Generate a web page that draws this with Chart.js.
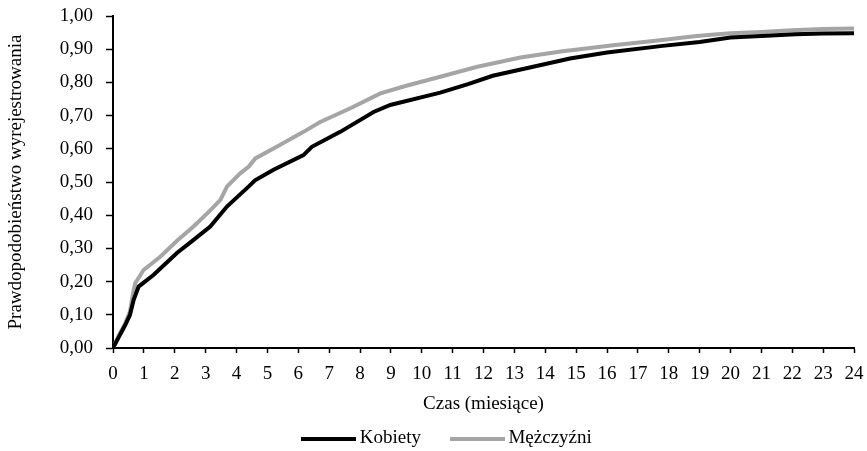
<!DOCTYPE html>
<html>
<head>
<meta charset="utf-8">
<script src="https://cdn.jsdelivr.net/npm/chart.js@4.4.1/dist/chart.umd.min.js"></script>
<style>
  html, body { margin: 0; padding: 0; background: #fff; }
  #wrap { width: 867px; height: 451px; }
</style>
</head>
<body>
<div id="wrap"><canvas id="myChart" width="867" height="451"></canvas></div>
<script>
// czas w miesiacach i skumulowane prawdopodobienstwo
var x_kobiety = [0, 0.2, 0.4, 0.55, 0.67, 0.83, 1.31, 2.07, 2.6, 3.15, 3.69, 4.39, 4.6, 5.2, 6.17, 6.44, 7.36, 8.44, 8.98, 10.6, 11.5, 12.3, 13.5, 14.8, 16, 17.8, 19, 20, 21, 22.1, 23, 24];
var y_kobiety = [0, 0.035, 0.07, 0.10, 0.145, 0.185, 0.22, 0.286, 0.325, 0.366, 0.426, 0.486, 0.505, 0.537, 0.581, 0.606, 0.651, 0.711, 0.732, 0.769, 0.795, 0.82, 0.845, 0.872, 0.89, 0.91, 0.922, 0.935, 0.94, 0.945, 0.947, 0.948];

var x_mezczyzni = [0, 0.2, 0.4, 0.55, 0.65, 0.72, 0.99, 1.53, 2.1, 2.61, 3.1, 3.48, 3.69, 4.12, 4.39, 4.61, 5.2, 6.17, 6.71, 7.69, 8.66, 9.5, 10.6, 11.8, 13.2, 14.5, 16.2, 17.5, 18.9, 20, 21, 22, 23, 24];
var y_mezczyzni = [0, 0.04, 0.075, 0.11, 0.165, 0.195, 0.235, 0.275, 0.325, 0.366, 0.41, 0.446, 0.486, 0.526, 0.546, 0.571, 0.601, 0.651, 0.681, 0.722, 0.767, 0.79, 0.817, 0.847, 0.875, 0.893, 0.912, 0.925, 0.94, 0.948, 0.952, 0.957, 0.961, 0.962];

var labels = ["Kobiety", "Mężczyźni"];
var lineColors = ["#000000", "#a5a5a5"];

function pairs(xs, ys) {
  var out = [];
  for (var i = 0; i < xs.length; i++) out.push({x: xs[i], y: ys[i]});
  return out;
}

// krotka kreska do legendy (jak w Excelu)
function legendLine(color) {
  var cv = document.createElement("canvas");
  cv.width = 55;
  cv.height = 4;
  var g = cv.getContext("2d");
  g.fillStyle = color;
  g.fillRect(0, 0, 55, 4);
  return cv;
}

Chart.defaults.font.family = "'Liberation Serif', 'DejaVu Serif', serif";
Chart.defaults.font.size = 19;
Chart.defaults.color = "#000";

var c = new Chart("myChart",
{
  type: "line",
  data: {
    datasets: [{
      label: labels[0],
      data: pairs(x_kobiety, y_kobiety),
      borderColor: lineColors[0],
      backgroundColor: lineColors[0],
      borderWidth: 4,
      pointRadius: 0,
      pointStyle: legendLine(lineColors[0]),
      tension: 0
    }, {
      label: labels[1],
      data: pairs(x_mezczyzni, y_mezczyzni),
      borderColor: lineColors[1],
      backgroundColor: lineColors[1],
      borderWidth: 4,
      pointRadius: 0,
      pointStyle: legendLine(lineColors[1]),
      tension: 0
    }]
  },
  options: {
    responsive: false,
    animation: false,
    layout: { padding: { left: 45, right: 13, top: 16, bottom: 0 } },
    plugins: {
      tooltip: { enabled: false },
      legend: {
        position: "bottom",
        maxHeight: 57,
        labels: {
          usePointStyle: true,
          pointStyleWidth: 43,
          padding: 35
        }
      }
    },
    scales: {
      x: {
        type: "linear",
        min: 0,
        max: 24,
        ticks: { stepSize: 1, maxRotation: 0, autoSkip: false, padding: 3.5, font: { lineHeight: 1.842 } },
        grid: { drawOnChartArea: false, color: "#000", tickLength: 5, tickWidth: 1.5 },
        border: { color: "#000", width: 2 },
        title: { display: true, text: "Czas (miesiące)", padding: { top: -2.4, bottom: -21.4 } }
      },
      y: {
        min: 0,
        max: 1,
        ticks: {
          stepSize: 0.1,
          padding: 13,
          font: { lineHeight: 0.3 },
          callback: function (v) { return v.toFixed(2).replace(".", ","); }
        },
        grid: { drawOnChartArea: false, color: "#000", tickLength: 7, tickWidth: 1.5 },
        border: { color: "#000", width: 2 },
        title: { display: true, text: "Prawdopodobieństwo wyrejestrowania", padding: { top: -40.4, bottom: 19.35 } }
      }
    }
  }
});
</script>
</body>
</html>
